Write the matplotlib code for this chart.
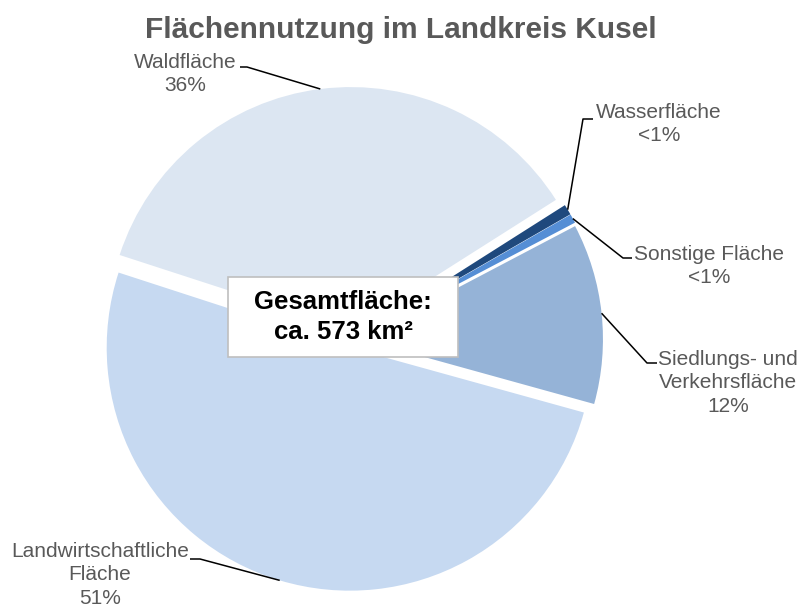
import numpy as np
import matplotlib.pyplot as plt
from matplotlib.patches import Rectangle

plt.rcParams['font.family'] = ['Liberation Sans', 'DejaVu Sans']

# data (shares in percent, clockwise from Waldfläche)
categories = ['Waldfläche', 'Wasserfläche', 'Sonstige Fläche',
              'Siedlungs- und\nVerkehrsfläche', 'Landwirtschaftliche\nFläche']
shares = [36.0, 0.7, 0.6, 12.0, 50.7]
colors = ['#DCE6F2', '#1F497D', '#558ED5', '#95B3D7', '#C6D9F1']
total_area = 573

W, H = 800, 610
fig = plt.figure(figsize=(8, 6.1), dpi=100)
ax = fig.add_axes([0, 0, 1, 1])

# pie in pixel-like data coordinates (y up)
cx, cy, r = 352, H - 340, 243
expl = [10, 9, 9, 8, 8]
wedges, _ = ax.pie(shares, colors=colors, startangle=162, counterclock=False,
                   center=(cx, cy), radius=r, explode=expl,
                   wedgeprops=dict(linewidth=0))
ax.set_xlim(0, W)
ax.set_ylim(0, H)
ax.set_aspect('equal')
ax.axis('off')

def pct_label(v):
    return '<1%' if v < 1 else f'{v:.0f}%'

# label layout: text centre, elbow start, elbow end (pixels, top origin)
label_layout = [
    ((185, 74), (240, 67), (247, 67)),
    ((659, 124), (593, 119), (583, 119)),
    ((709, 266), (632, 258), (623, 258)),
    ((728, 383), (657, 363), (647, 363)),
    ((100, 575), (190, 559), (200, 559)),
]

txt_color = '#595959'
for w, name, v, (tpos, e0, e1) in zip(wedges, categories, shares, label_layout):
    tm = np.deg2rad(0.5 * (w.theta1 + w.theta2))
    px = w.center[0] + w.r * np.cos(tm)
    py = w.center[1] + w.r * np.sin(tm)
    ax.plot([e0[0], e1[0], px], [H - e0[1], H - e1[1], py],
            color='black', lw=1.1, solid_capstyle='butt')
    ax.text(tpos[0], H - tpos[1], f'{name}\n{pct_label(v)}', ha='center',
            va='center', fontsize=15, color=txt_color, linespacing=1.33)

# centre box
ax.add_patch(Rectangle((228, H - 357), 230, 80, facecolor='white',
                       edgecolor='#BFBFBF', linewidth=1.2, zorder=3))
ax.text(343, H - 317, f'Gesamtfläche:\nca. {total_area} km²', ha='center',
        va='center', fontsize=18.5, fontweight='bold', color='black',
        linespacing=1.35, zorder=4)

fig.text(401 / W, 1 - 30 / H, 'Flächennutzung im Landkreis Kusel', ha='center',
         va='center', fontsize=21.5, fontweight='bold', color=txt_color)

fig.savefig('out.png', dpi=100)
